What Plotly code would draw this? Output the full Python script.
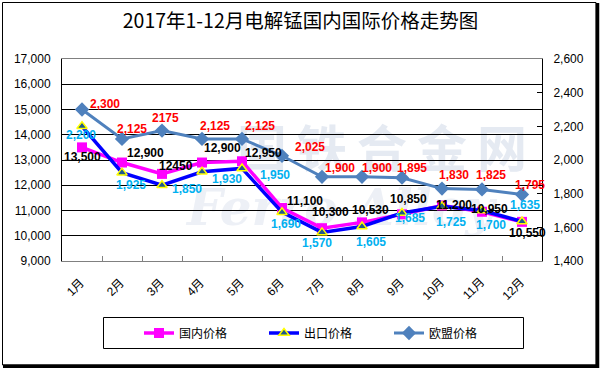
import base64
import plotly.graph_objects as go

# ---------------- data ----------------
months = ["1月", "2月", "3月", "4月", "5月", "6月", "7月", "8月", "9月", "10月", "11月", "12月"]
domestic = [13500, 12900, 12450, 12900, 12950, 11100, 10300, 10530, 10850, 11200, 10950, 10550]
export = [2200, 1925, 1850, 1930, 1950, 1690, 1570, 1605, 1685, 1725, 1700, 1635]
eu = [2300, 2125, 2175, 2125, 2125, 2025, 1900, 1900, 1895, 1830, 1825, 1795]
left_ticks = [9000, 10000, 11000, 12000, 13000, 14000, 15000, 16000, 17000]
right_ticks = [1400, 1600, 1800, 2000, 2200, 2400, 2600]
title = "2017年1-12月电解锰国内国际价格走势图"
names = ["国内价格", "出口价格", "欧盟价格"]

# label text formatting (as printed in the source: a couple have no comma)
dom_nocomma = {2}
eu_nocomma = {2}

# label offsets in screen pixels (dx, dy down)
dom_off = [(0, 10), (23, -10), (14, -8), (20, -15), (21, -8), (23, -7),
           (8, -16), (8, -12), (6, -15), (12, 0), (7, -3), (5, 11)]
exp_off = [(-1, 9), (9, 12), (25, 4), (25, 7), (33, 7), (4, 12),
           (-5, 11), (9, 16), (8, 5), (9, 16), (9, 14), (3, -16)]
eu_off = [(23, -6), (10, -10), (3, -13), (13, -13), (18, -13), (28, -9),
          (18, -9), (15, -9), (10, -10), (12, -14), (9, -14), (8, -10)]

W, H = 601, 370
L, R, T, B = 62, 59, 59, 109
PW, PH = W - L - R, H - T - B


def fx(px):
    return (px - L) / PW


def fy(py):
    return (H - B - py) / PH


def fmt(v, nocomma):
    return str(v) if nocomma else f"{v:,}"


fig = go.Figure()
fig.add_trace(go.Scatter(
    x=months, y=domestic, name=names[0], yaxis="y", mode="lines+markers",
    line=dict(color="#FF00FF", width=3.5),
    marker=dict(symbol="square", size=10, color="#FF00FF"),
))
fig.add_trace(go.Scatter(
    x=months, y=export, name=names[1], yaxis="y2", mode="lines+markers",
    line=dict(color="#0000FF", width=3.5),
    marker=dict(symbol="triangle-up", size=9, color="#1F5A8C",
                line=dict(color="#FFFF00", width=1.5)),
))
fig.add_trace(go.Scatter(
    x=months, y=eu, name=names[2], yaxis="y2", mode="lines+markers",
    line=dict(color="#4F81BD", width=3),
    marker=dict(symbol="diamond", size=11, color="#4F81BD"),
))

lab_font = "Liberation Sans, Arial, sans-serif"
annotations = []
for i, m in enumerate(months):
    annotations.append(dict(x=m, y=domestic[i], yref="y", text=fmt(domestic[i], i in dom_nocomma),
                            showarrow=False, xshift=dom_off[i][0], yshift=-dom_off[i][1],
                            font=dict(family=lab_font, size=12, color="#000000", weight="bold")))
    annotations.append(dict(x=m, y=export[i], yref="y2", text=fmt(export[i], False),
                            showarrow=False, xshift=exp_off[i][0], yshift=-exp_off[i][1],
                            font=dict(family=lab_font, size=12, color="#00B0F0", weight="bold")))
    annotations.append(dict(x=m, y=eu[i], yref="y2", text=fmt(eu[i], i in eu_nocomma),
                            showarrow=False, xshift=eu_off[i][0], yshift=-eu_off[i][1],
                            font=dict(family=lab_font, size=12, color="#FF0000", weight="bold")))

# rotated category labels (text end sits just right of / below the category centre)
for m in months:
    ndig = len(m) - 1
    tl = 6.67 * ndig + 12.0
    half = 0.354 * tl
    annotations.append(dict(x=m, xref="x", y=fy(280.5 + half), yref="paper", text=m,
                            showarrow=False, textangle=-45, xshift=0.5 - half,
                            xanchor="center", yanchor="middle",
                            font=dict(family="Liberation Sans, Arial, Noto Sans CJK SC", size=12,
                                      color="black")))

# faint watermark behind the plot
wm_chars = "国铁合金网"
svg_parts = ['<svg xmlns="http://www.w3.org/2000/svg" width="%d" height="%d" viewBox="0 0 %d %d">' % (PW, PH, PW, PH)]
svg_parts.append('<g font-family="Noto Sans CJK SC" font-weight="bold" font-size="50" fill="#e5eaf2" text-anchor="middle">')
for k, ch in enumerate(wm_chars):
    svg_parts.append('<text x="%d" y="108">%s</text>' % (200 + 60 * k, ch))
svg_parts.append('</g>')
svg_parts.append('<text x="125" y="166" font-family="DejaVu Serif" font-style="italic" font-weight="bold" '
                 'font-size="50" fill="#edf0f6">Ferro Alloy</text>')
svg_parts.append('</svg>')
svg = "".join(svg_parts)
src = "data:image/svg+xml;base64," + base64.b64encode(svg.encode("utf-8")).decode("ascii")

shapes = [
    # outer frame
    dict(type="rect", xref="paper", yref="paper", x0=fx(2.5), x1=fx(596), y0=fy(365), y1=fy(2.5),
         line=dict(color="black", width=1)),
    dict(type="line", xref="paper", yref="paper", x0=fx(597.5), x1=fx(597.5), y0=fy(3), y1=fy(368),
         line=dict(color="black", width=3.5)),
    dict(type="line", xref="paper", yref="paper", x0=fx(3), x1=fx(599), y0=fy(366.3), y1=fy(366.3),
         line=dict(color="black", width=3.5)),
    # legend box
    dict(type="rect", xref="paper", yref="paper", x0=fx(103.5), x1=fx(523.5), y0=fy(348.5), y1=fy(317.5),
         line=dict(color="black", width=1)),
]

tick_font = dict(family="Liberation Sans, Arial, Noto Sans CJK SC, sans-serif", size=12, color="black")

fig.update_layout(
    width=W, height=H, autosize=False,
    margin=dict(l=L, r=R, t=T, b=B, pad=0, autoexpand=False),
    paper_bgcolor="white", plot_bgcolor="rgba(0,0,0,0)",
    title=dict(text=title, x=0.5, xanchor="center", y=1 - 21 / H, yanchor="middle", yref="container",
               font=dict(family="Noto Sans CJK SC", size=19.5, color="black")),
    xaxis=dict(type="category", categoryorder="array", categoryarray=months, range=[-0.5, 11.5],
               showline=True, linecolor="#808080", linewidth=1, mirror=True,
               ticks="inside", tickson="boundaries", ticklen=5, tickcolor="#808080",
               showgrid=False, showticklabels=False, automargin=False, fixedrange=True),
    yaxis=dict(range=[9000, 17000], tickvals=left_ticks, tickformat=",", showline=True,
               linecolor="black", linewidth=1, ticks="inside", ticklen=5, tickcolor="black",
               showgrid=True, gridcolor="black", gridwidth=1, zeroline=False, automargin=False,
               tickfont=tick_font, ticklabelstandoff=8),
    yaxis2=dict(range=[1400, 2600], tickvals=right_ticks, tickformat=",", overlaying="y", side="right",
                showline=True, linecolor="black", linewidth=1, ticks="inside", ticklen=5,
                tickcolor="black", showgrid=False, zeroline=False, tickfont=tick_font,
                automargin=False, ticklabelstandoff=8),
    legend=dict(orientation="h", x=fx(139), xanchor="left", y=fy(333), yanchor="middle",
                entrywidth=80, entrywidthmode="pixels", bgcolor="rgba(0,0,0,0)", borderwidth=0,
                font=dict(family="Noto Sans CJK SC", size=12, color="black")),
    annotations=annotations,
    shapes=shapes,
    images=[dict(source=src, xref="paper", yref="paper", x=0, y=1, sizex=1, sizey=1,
                 xanchor="left", yanchor="top", sizing="stretch", layer="below")],
    showlegend=True,
    hovermode=False,
)

fig.write_html("out.html",
               config={"displayModeBar": False, "staticPlot": True},
               post_script="document.body.style.margin='0';document.body.style.padding='0';"
                           "document.body.style.overflow='hidden';")
